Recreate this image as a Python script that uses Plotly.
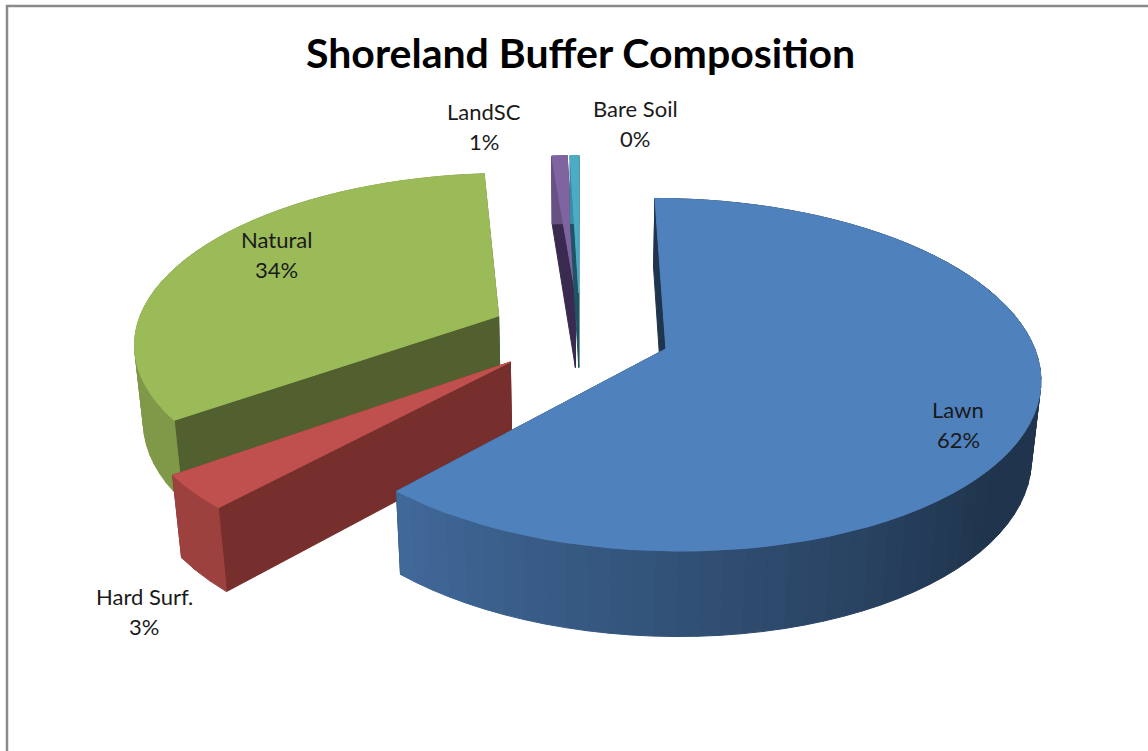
"""Shoreland buffer composition: exploded 3D-look pie drawn with filled scatter traces."""

import numpy as np
import plotly.graph_objects as go


# ── Data ────────────────────────────────────────────────────────────────────
CATEGORIES = ["Lawn", "Hard Surf.", "Natural", "LandSC", "Bare Soil"]
VALUES     = [61.8, 3.2, 33.7, 0.8, 0.45]
TITLE      = "Shoreland Buffer Composition"

# ── Theme ───────────────────────────────────────────────────────────────────
TOP_COLORS  = ["#4f81bd", "#c0504d", "#9bbb59", "#8064a2", "#4bacc6"]
CUT_COLORS  = ["#1f344d", "#772f2e", "#525f2e", "#3b2a4f", "#1f5563"]
BORDER      = "#8a8a8a"
FONT        = "Lato, Carlito, Calibri, sans-serif"

# ── Projection ──────────────────────────────────────────────────────────────
CX, CY  = 580.0, 333.4
SX, SY  = 364.0, 168.0
SZ      = 78.0
K, M    = 0.145, 0.02
EXPLODE = 0.25
DRAW_ORDER = [3, 4, 2, 1, 0]

LABEL_XY = {
    "Lawn":       (958, 409),
    "Hard Surf.": (144, 596),
    "Natural":    (276, 239),
    "LandSC":     (484, 111),
    "Bare Soil":  (635, 108),
}
LINE_GAP = 30


def project(x, y, z=0.0):
    w = 1 + K * y - M * z
    return CX + SX * x / w, CY - (SY * y + SZ * z) / w


def hex_shade(color, factor):
    rgb = [int(color[i:i + 2], 16) for i in (1, 3, 5)]
    return "rgb({},{},{})".format(*[int(c * factor) for c in rgb])


def wall_factor(deg):
    # outer wall gets darker towards the right hand side
    return float(np.clip(0.41 + 0.41 * (deg - 130) / 93, 0.41, 0.82))


def add_poly(fig, pts, color):
    pts = list(pts) + [pts[0]]
    xs, ys = zip(*pts)
    fig.add_trace(go.Scatter(
        x=list(xs), y=list(ys),
        mode="lines", fill="toself", fillcolor=color,
        line=dict(color=color, width=1),
        hoverinfo="skip", showlegend=False,
    ))


fig = go.Figure()

total  = sum(VALUES)
edges  = np.concatenate([[0], np.cumsum(VALUES)]) / total * 360

for i in DRAW_ORDER:
    a0, a1 = edges[i], edges[i + 1]
    mid = np.radians((a0 + a1) / 2)
    ox, oy = EXPLODE * np.sin(mid), EXPLODE * np.cos(mid)

    n = max(3, int((a1 - a0) / 3))
    degs = np.linspace(a0, a1, n + 1)
    rim = [(ox + np.sin(np.radians(d)), oy + np.cos(np.radians(d))) for d in degs]

    # cut faces
    for rx, ry in (rim[-1], rim[0]):
        add_poly(fig, [project(ox, oy), project(rx, ry),
                       project(rx, ry, -1), project(ox, oy, -1)], CUT_COLORS[i])

    # outer wall, segment by segment for the shading
    for j in range(n):
        (x0, y0), (x1, y1) = rim[j], rim[j + 1]
        shade = hex_shade(TOP_COLORS[i], wall_factor((degs[j] + degs[j + 1]) / 2))
        add_poly(fig, [project(x0, y0), project(x1, y1),
                       project(x1, y1, -1), project(x0, y0, -1)], shade)

    # top face
    add_poly(fig, [project(ox, oy)] + [project(rx, ry) for rx, ry in rim], TOP_COLORS[i])

# Labels
annotations = [dict(
    x=580, y=52, text=f"<b>{TITLE}</b>", showarrow=False,
    font=dict(family=FONT, size=41, color="#000000"),
)]
for name, value in zip(CATEGORIES, VALUES):
    lx, ly = LABEL_XY[name]
    annotations.append(dict(x=lx, y=ly, text=name, showarrow=False,
                            font=dict(family=FONT, size=22, color="#1a1a1a")))
    annotations.append(dict(x=lx, y=ly + LINE_GAP, text=f"{value / total * 100:.0f}%",
                            showarrow=False,
                            font=dict(family=FONT, size=22, color="#1a1a1a")))

fig.update_layout(
    width=1148, height=751,
    margin=dict(l=0, r=0, t=0, b=0),
    paper_bgcolor="#ffffff", plot_bgcolor="#ffffff",
    xaxis=dict(range=[0, 1148], visible=False),
    yaxis=dict(range=[751, 0], visible=False),
    annotations=annotations,
    shapes=[
        dict(type="line", x0=7, x1=7, y0=5, y1=751, line=dict(color=BORDER, width=2.5)),
        dict(type="line", x0=6, x1=1148, y0=6, y1=6, line=dict(color=BORDER, width=2.5)),
    ],
)

fig.write_html("out.html", config={"displayModeBar": False},
               post_script="document.body.style.margin='0';")
